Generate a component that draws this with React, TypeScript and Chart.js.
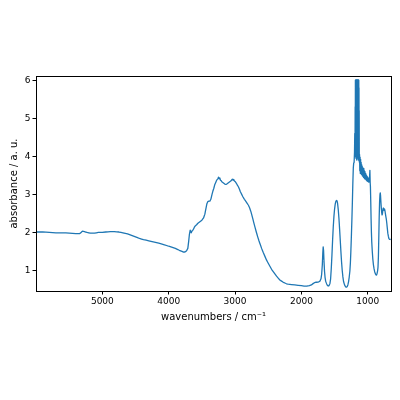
import { useEffect, useRef } from "react";
import { Chart, registerables } from "chart.js";

Chart.register(...registerables);

const wavenumbers = [
  6000, 5900, 5800, 5700, 5600, 5500, 5400, 5340, 5320, 5300, 5270, 5230, 5180, 5120, 5060, 5000,
  4950, 4880, 4820, 4750, 4690, 4620, 4560, 4500, 4440, 4380, 4300, 4200, 4100, 4000, 3900, 3840,
  3800, 3776, 3750, 3730, 3712, 3700, 3688, 3676, 3668, 3660, 3652, 3640, 3628, 3615, 3600, 3580,
  3560, 3530, 3500, 3475, 3455, 3440, 3425, 3410, 3395, 3380, 3365, 3350, 3335, 3320, 3305, 3290,
  3275, 3262, 3250, 3240, 3230, 3220, 3210, 3200, 3185, 3170, 3155, 3140, 3125, 3110, 3095, 3080,
  3065, 3050, 3040, 3030, 3020, 3010, 2995, 2980, 2965, 2950, 2935, 2920, 2900, 2880, 2860, 2840,
  2820, 2800, 2780, 2760, 2740, 2720, 2700, 2680, 2660, 2640, 2620, 2600, 2575, 2550, 2525, 2500,
  2475, 2450, 2425, 2400, 2375, 2350, 2325, 2300, 2275, 2250, 2225, 2200, 2150, 2100, 2050, 2000,
  1960, 1920, 1880, 1850, 1820, 1800, 1780, 1760, 1740, 1720, 1705, 1695, 1685, 1678, 1672, 1666,
  1660, 1652, 1644, 1635, 1620, 1605, 1595, 1585, 1570, 1560, 1550, 1540, 1530, 1520, 1510, 1500,
  1490, 1480, 1470, 1462, 1455, 1445, 1435, 1425, 1415, 1405, 1395, 1385, 1375, 1365, 1350, 1335,
  1322, 1310, 1300, 1290, 1280, 1270, 1262, 1255, 1248, 1240, 1232, 1225, 1218, 1212, 1206, 1200,
  1196, 1192, 1190, 1188, 1186.5, 1185, 1183.5, 1182, 1180.5, 1179, 1177.5, 1176, 1174.5, 1173, 1171.5, 1170,
  1168.5, 1167, 1165.5, 1164, 1162.5, 1161, 1159.5, 1158, 1156.5, 1155, 1153.5, 1152, 1150.5, 1149, 1147.5, 1146,
  1144.5, 1143, 1141.5, 1140, 1138.5, 1137, 1135.5, 1134, 1132.5, 1131, 1129.5, 1128,
  1124, 1120, 1116, 1112, 1108, 1104, 1100, 1096,
  1092, 1088, 1084, 1080, 1076, 1072, 1068, 1064, 1060, 1056, 1052, 1048, 1044, 1040, 1036, 1032,
  1028, 1024, 1020, 1016, 1012, 1008, 1004, 1000, 996, 992, 988, 984, 980, 976, 972, 968,
  964, 960, 955, 950, 945, 940, 932, 924, 915, 905, 895, 885, 875, 868, 860, 852,
  846, 840, 834, 828, 822, 816, 812, 808, 802, 796, 790, 785, 780, 775, 770, 765,
  760, 755, 750, 745, 740, 735, 728, 720, 712, 705, 698, 690, 682, 675, 665, 655,
];

const absorbance = [
  2.01, 2.01, 2.0, 1.99, 1.99, 1.98, 1.97, 1.97, 2.0, 2.03, 2.02, 2.0, 1.98, 1.98, 2.0, 2.0,
  2.01, 2.02, 2.02, 2.01, 1.99, 1.96, 1.92, 1.88, 1.84, 1.81, 1.78, 1.74, 1.69, 1.64, 1.58, 1.53,
  1.5, 1.48, 1.49, 1.52, 1.58, 1.75, 1.95, 2.06, 2.02, 1.99, 2.03, 2.05, 2.08, 2.13, 2.17, 2.2,
  2.24, 2.28, 2.32, 2.38, 2.48, 2.62, 2.75, 2.81, 2.82, 2.82, 2.87, 2.98, 3.08, 3.16, 3.26, 3.32,
  3.38, 3.4, 3.45, 3.41, 3.43, 3.37, 3.36, 3.33, 3.31, 3.29, 3.27, 3.26, 3.27, 3.29, 3.31, 3.33,
  3.35, 3.38, 3.4, 3.37, 3.39, 3.35, 3.33, 3.29, 3.24, 3.2, 3.14, 3.07, 3.0, 2.93, 2.87, 2.82,
  2.77, 2.72, 2.64, 2.54, 2.41, 2.27, 2.14, 2.01, 1.89, 1.78, 1.68, 1.58, 1.47, 1.37, 1.27, 1.19,
  1.11, 1.03, 0.97, 0.91, 0.85, 0.8, 0.75, 0.72, 0.69, 0.67, 0.65, 0.64, 0.63, 0.62, 0.61, 0.6,
  0.59, 0.59, 0.6, 0.62, 0.66, 0.68, 0.69, 0.69, 0.7, 0.72, 0.78, 0.9, 1.15, 1.45, 1.62, 1.52,
  1.25, 0.98, 0.82, 0.72, 0.64, 0.6, 0.59, 0.6, 0.66, 0.78, 1.05, 1.4, 1.8, 2.15, 2.42, 2.62,
  2.75, 2.82, 2.84, 2.82, 2.76, 2.6, 2.38, 2.1, 1.8, 1.5, 1.22, 1.0, 0.83, 0.71, 0.62, 0.57,
  0.56, 0.58, 0.62, 0.7, 0.82, 0.98, 1.2, 1.5, 1.85, 2.3, 2.8, 3.3, 3.7, 3.82, 3.84, 4.1,
  4.6, 4.0, 5.3, 4.3, 6.0, 4.0, 6.0, 4.2, 6.0, 3.95, 6.0, 4.4, 6.0, 4.05, 6.0, 4.5,
  6.0, 3.9, 6.0, 4.25, 6.0, 4.0, 6.0, 4.35, 6.0, 3.95, 6.0, 4.15, 6.0, 4.0, 6.0, 4.3,
  6.0, 3.9, 6.0, 4.1, 6.0, 4.0, 6.0, 4.2, 5.8, 3.9, 5.2, 3.85,
  4.05, 3.62, 3.98, 3.55, 3.92, 3.6, 3.84, 3.52,
  3.78, 3.56, 3.74, 3.48, 3.7, 3.5, 3.66, 3.44, 3.68, 3.46, 3.62, 3.42, 3.6, 3.4, 3.56, 3.42,
  3.54, 3.38, 3.5, 3.36, 3.48, 3.35, 3.46, 3.34, 3.44, 3.33, 3.42, 3.32, 3.4, 3.33, 3.5, 3.63,
  3.32, 3.2, 2.8, 2.35, 2.0, 1.75, 1.5, 1.3, 1.15, 1.04, 0.96, 0.91, 0.88, 0.88, 0.92, 0.99,
  1.08, 1.35, 1.85, 2.4, 2.8, 3.0, 3.04, 2.98, 2.8, 2.64, 2.52, 2.46, 2.48, 2.55, 2.62, 2.64,
  2.6, 2.58, 2.62, 2.6, 2.56, 2.5, 2.42, 2.34, 2.22, 2.1, 1.98, 1.9, 1.84, 1.82, 1.82, 1.81,
];

const xTickValues = [5000, 4000, 3000, 2000, 1000];
const yTickValues = [1, 2, 3, 4, 5, 6];
const xLabel = "wavenumbers / cm⁻¹";
const yLabel = "absorbance / a. u.";

const FONT = "'DejaVu Sans', sans-serif";

export default function App() {
  const ref = useRef<HTMLCanvasElement>(null);

  useEffect(() => {
    document.body.style.margin = "0";
    const frame = {
      id: "frame",
      afterDatasetsDraw(chart: any) {
        const { ctx, chartArea } = chart;
        const l = Math.round(chartArea.left) + 0.5;
        const t = Math.round(chartArea.top) + 0.5;
        const r = Math.round(chartArea.right) + 0.5;
        const b = Math.round(chartArea.bottom) + 0.5;
        ctx.save();
        ctx.strokeStyle = "#000";
        ctx.lineWidth = 1;
        ctx.strokeRect(l, t, r - l, b - t);
        ctx.restore();
      },
    };
    const chart = new Chart(ref.current!, {
      type: "line",
      data: {
        datasets: [
          {
            data: wavenumbers.map((x, i) => ({ x, y: absorbance[i] })),
            borderColor: "#1f77b4",
            borderWidth: 1.3,
            pointRadius: 0,
            tension: 0.000001,
            borderJoinStyle: "round",
            fill: false,
          },
        ],
      },
      options: {
        responsive: false,
        animation: false,
        events: [],
        layout: { padding: { top: 76, right: 9, left: 0, bottom: 0 } },
        plugins: { legend: { display: false }, tooltip: { enabled: false } },
        scales: {
          x: {
            type: "linear",
            reverse: true,
            min: 650,
            max: 6000,
            afterBuildTicks: (s: any) => {
              s.ticks = xTickValues.map((v) => ({ value: v }));
            },
            afterFit: (s: any) => {
              s.height = 109;
            },
            ticks: {
              color: "#000",
              font: { family: FONT, size: 9 },
              padding: 2,
              maxRotation: 0,
              autoSkip: false,
              callback: (v: any) => String(v),
            },
            grid: { drawOnChartArea: false, drawTicks: true, tickLength: 3.5, color: "#000", lineWidth: 1 },
            border: { display: false },
            title: {
              display: true,
              text: xLabel,
              color: "#000",
              font: { family: FONT, size: 10 },
              padding: { top: 0, bottom: 77 },
            },
          },
          y: {
            type: "linear",
            min: 0.46,
            max: 6.11,
            afterBuildTicks: (s: any) => {
              s.ticks = yTickValues.map((v) => ({ value: v }));
            },
            afterFit: (s: any) => {
              s.width = 36;
            },
            ticks: {
              color: "#000",
              font: { family: FONT, size: 9 },
              padding: 2,
              autoSkip: false,
              callback: (v: any) => String(v),
            },
            grid: { drawOnChartArea: false, drawTicks: true, tickLength: 3.5, color: "#000", lineWidth: 1 },
            border: { display: false },
            title: {
              display: true,
              text: yLabel,
              color: "#000",
              font: { family: FONT, size: 10 },
              padding: { top: 8, bottom: 0 },
            },
          },
        },
      },
      plugins: [frame],
    });
    return () => chart.destroy();
  }, []);

  return (
    <div style={{ position: "absolute", left: 0, top: 0, width: 400, height: 400, background: "#fff" }}>
      <canvas ref={ref} width={400} height={400} />
    </div>
  );
}
